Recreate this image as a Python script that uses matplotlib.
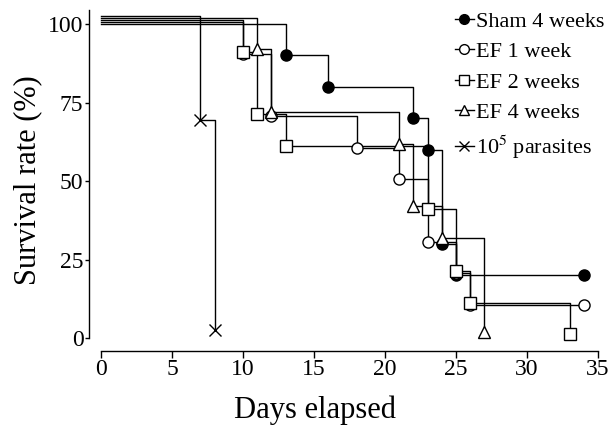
import matplotlib
matplotlib.use("Agg")
import matplotlib.pyplot as plt
from matplotlib.lines import Line2D
from matplotlib.legend_handler import HandlerLine2D

plt.rcParams["font.family"] = ["Liberation Serif", "DejaVu Serif"]
plt.rcParams["mathtext.fontset"] = "stix"

# ---------------------------------------------------------------------- #
# Kaplan-Meier steps (day, survival %)               #
# ---------------------------------------------------------------------- #
sham_days = [0, 13, 16, 22, 23, 24, 25, 34]
sham_surv = [100, 90, 80, 70, 60, 30, 20, 20]

ef1_days = [0, 10, 12, 18, 21, 23, 25, 26, 34]
ef1_surv = [100, 90, 70, 60, 50, 30, 20, 10, 10]

ef2_days = [0, 10, 11, 13, 23, 25, 26, 33]
ef2_surv = [100, 90, 70, 60, 40, 20, 10, 0]

ef4_days = [0, 11, 12, 21, 22, 24, 27]
ef4_surv = [100, 90, 70, 60, 40, 30, 0]

par_days = [0, 7, 8]
par_surv = [100, 66.7, 0]

labels = ["Sham 4 weeks", "EF 1 week", "EF 2 weeks", "EF 4 weeks",
          "10$^5$ parasites"]
x_ticks = [0, 5, 10, 15, 20, 25, 30, 35]
y_ticks = [0, 25, 50, 75, 100]

# prism-style small vertical offsets so overlapping curves stay visible
series = [
    (sham_days, sham_surv, 0.0, dict(marker="o", mfc="black")),
    (ef1_days, ef1_surv, 0.6, dict(marker="o", mfc="white")),
    (ef2_days, ef2_surv, 1.2, dict(marker="s", mfc="white")),
    (ef4_days, ef4_surv, 1.9, dict(marker="^", mfc="white")),
    (par_days, par_surv, 2.6, dict(marker="x", mfc="black")),
]


class RightMarker(HandlerLine2D):
    """legend handle: short line with the marker at its right end"""
    def get_xdata(self, legend, xdescent, ydescent, width, height, fontsize):
        return [-xdescent, -xdescent + width], [-xdescent + width * 0.8]


fig = plt.figure(figsize=(6.1, 4.25), dpi=100)
ax = fig.add_axes([0.1459, 0.1737, 0.8426, 0.803])

handles = []
for (d, s, off, st), lab in zip(series, labels):
    y = [v + off for v in s]
    ax.step(d, y, where="post", color="black", lw=1.0, zorder=2)
    ax.plot(d[1:], y[1:], ls="none", marker=st["marker"], ms=8,
            mfc=st["mfc"], mec="black", mew=1.0, zorder=3)
    handles.append(Line2D([], [], color="black", lw=1.0, marker=st["marker"],
                          ms=7, mfc=st["mfc"], mec="black", mew=1.0,
                          label=lab))

ax.set_xlim(-0.85, 35.35)
ax.set_ylim(-4.2, 104.5)
ax.spines["top"].set_visible(False)
ax.spines["right"].set_visible(False)
ax.spines["left"].set_bounds(0, 104.5)
ax.spines["bottom"].set_bounds(0, 35)
for sp in ("left", "bottom"):
    ax.spines[sp].set_linewidth(1.0)

ax.set_xticks(x_ticks)
ax.set_yticks(y_ticks)
ax.tick_params(axis="y", direction="out", length=3, width=1.0,
               labelsize=17, pad=1)
ax.tick_params(axis="x", direction="out", length=5, width=1.0,
               labelsize=17, pad=0.5)

ax.set_ylabel("Survival rate (%)", fontsize=22)
ax.set_xlabel("Days elapsed", fontsize=22)
ax.yaxis.set_label_coords(-0.091, 0.5)
ax.xaxis.set_label_coords(0.44, -0.131)

leg = ax.legend(handles=handles, loc="upper left",
                bbox_to_anchor=(455 / 610, 1 - 11 / 425),
                bbox_transform=fig.transFigure, frameon=False,
                fontsize=16, handlelength=0.85, handletextpad=0.1,
                labelspacing=0.45, borderpad=0, borderaxespad=0,
                handler_map={Line2D: RightMarker()})

fig.savefig("out.png", dpi=100)
